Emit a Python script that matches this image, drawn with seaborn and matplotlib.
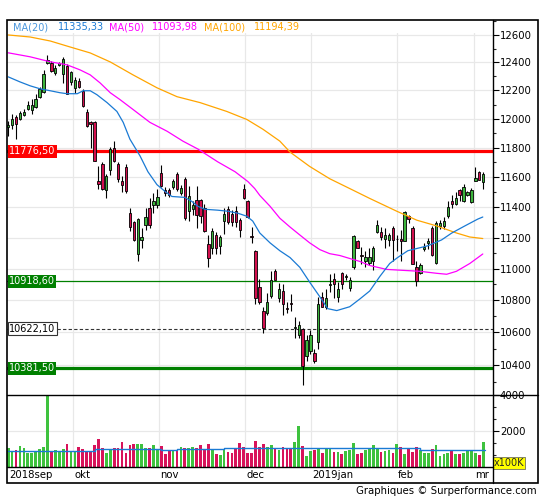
import matplotlib
matplotlib.use('Agg')
import matplotlib.pyplot as plt
import matplotlib.ticker as mticker
import matplotlib.transforms as mtrans
from matplotlib.patches import Rectangle
from matplotlib.lines import Line2D
import pandas as pd
import seaborn as sns

sns.set_style('white')
plt.rcParams['font.family'] = ['DejaVu Sans']

# daily candles, 2018sep -> 2019mr
opens = [11945, 11955, 12010, 11996, 12024, 12066, 12059, 12086, 12156, 12191,
         12397, 12397, 12325, 12383, 12318, 12375, 12262, 12219, 12269, 12198,
         12045, 11975, 11975, 11577, 11691, 11517, 11650, 11799, 11691, 11577,
         11670, 11360, 11301, 11096, 11185, 11282, 11393, 11412, 11412, 11630,
         11517, 11517, 11537, 11624, 11491, 11590, 11373, 11386, 11445, 11445,
         11393, 11160, 11134, 11217, 11147, 11308, 11386, 11354, 11373, 11314,
         11524, 11438, 11210, 11115, 10883, 10735, 10717, 10827, 10983, 10815,
         10858, 10750, 10780, 10625, 10583, 10619, 10457, 10486, 10474, 10540,
         10821, 10759, 10895, 10933, 10821, 10970, 10945, 10877, 11008, 11179,
         11090, 11046, 11039, 11052, 11237, 11237, 11192, 11185, 11263, 11192,
         11192, 11179, 11340, 11263, 11008, 10970, 11128, 11166, 11263, 11039,
         11276, 11276, 11340, 11438, 11418, 11517, 11438, 11484, 11432, 11577,
         11637, 11570]
highs = [11982, 12031, 12024, 12052, 12066, 12128, 12142, 12177, 12226, 12347,
         12454, 12411, 12383, 12404, 12440, 12390, 12340, 12297, 12290, 12212,
         12066, 11982, 11982, 11677, 11700, 11624, 11806, 11846, 11700, 11610,
         11691, 11393, 11308, 11327, 11263, 11393, 11458, 11491, 11524, 11684,
         11537, 11530, 11590, 11637, 11550, 11604, 11544, 11438, 11544, 11451,
         11418, 11217, 11263, 11237, 11217, 11393, 11406, 11380, 11406, 11327,
         11557, 11445, 11270, 11122, 10933, 10759, 10845, 10983, 10995, 10908,
         10901, 10790, 10840, 10698, 10668, 10625, 10583, 10613, 10497, 10821,
         10852, 10870, 10964, 10970, 10914, 10977, 10964, 10945, 11217, 11185,
         11141, 11115, 11134, 11147, 11314, 11269, 11263, 11230, 11276, 11217,
         11250, 11373, 11347, 11276, 11052, 11033, 11166, 11198, 11276, 11308,
         11314, 11334, 11438, 11478, 11504, 11524, 11557, 11510, 11530, 11670,
         11644, 11637]
lows = [11880, 11928, 11860, 11990, 12017, 12059, 12031, 12079, 12149, 12184,
        12390, 12333, 12311, 12375, 12255, 12177, 12240, 12184, 12219, 12086,
        11941, 11799, 11710, 11524, 11517, 11458, 11617, 11700, 11570, 11500,
        11491, 11240, 11179, 11052, 11134, 11250, 11263, 11360, 11393, 11537,
        11471, 11465, 11524, 11510, 11478, 11314, 11308, 11347, 11263, 11295,
        11237, 11008, 11096, 11096, 11096, 11224, 11288, 11276, 11270, 11204,
        11451, 11327, 11166, 10777, 10777, 10595, 10710, 10815, 10926, 10790,
        10710, 10717, 10735, 10565, 10565, 10279, 10427, 10468, 10415, 10497,
        10759, 10747, 10852, 10815, 10790, 10870, 10926, 10858, 10995, 11134,
        11027, 11008, 11020, 10989, 11230, 11185, 11134, 11147, 11052, 11115,
        11052, 11179, 11295, 11027, 10889, 10964, 11115, 11128, 11084, 11027,
        11256, 11256, 11327, 11393, 11412, 11438, 11432, 11471, 11425, 11577,
        11584, 11524]
closes = [11955, 11996, 11962, 12038, 12045, 12100, 12100, 12142, 12212, 12318,
          12419, 12340, 12361, 12397, 12426, 12177, 12333, 12276, 12226, 12093,
          11948, 11962, 11710, 11557, 11524, 11610, 11792, 11710, 11590, 11550,
          11510, 11270, 11185, 11321, 11204, 11334, 11282, 11438, 11465, 11544,
          11491, 11484, 11577, 11524, 11530, 11327, 11471, 11412, 11347, 11340,
          11243, 11065, 11243, 11134, 11204, 11354, 11301, 11301, 11301, 11250,
          11458, 11334, 11204, 10815, 10790, 10625, 10790, 10926, 10926, 10870,
          10778, 10747, 10778, 10630, 10643, 10397, 10553, 10583, 10427, 10778,
          10759, 10815, 10901, 10901, 10870, 10901, 10951, 10926, 11210, 11134,
          11084, 11077, 11077, 11134, 11282, 11204, 11217, 11217, 11185, 11194,
          11179, 11367, 11321, 11027, 10920, 11020, 11141, 11179, 11090, 11295,
          11295, 11308, 11399, 11418, 11458, 11484, 11537, 11504, 11517, 11597,
          11584, 11624]
volumes = [1074, 889, 944, 1167, 1074, 759, 759, 852, 1000, 1130,
           3963, 889, 944, 889, 1000, 1278, 852, 889, 1111, 1000,
           852, 852, 1222, 1556, 1037, 796, 944, 1037, 1074, 1370,
           796, 1222, 1278, 1278, 1278, 1074, 1074, 1222, 1000, 1167,
           741, 944, 944, 944, 1130, 1037, 1074, 1130, 1074, 1222,
           1000, 1278, 1000, 741, 685, 944, 852, 796, 1074, 1352,
           1111, 796, 759, 1426, 1130, 1278, 1130, 1222, 1037, 944,
           1130, 1074, 1074, 1370, 2278, 1167, 630, 889, 944, 1037,
           759, 1037, 1037, 852, 815, 741, 889, 944, 1352, 741,
           759, 944, 981, 1222, 1037, 852, 900, 944, 759, 1278,
           1130, 741, 981, 852, 1130, 944, 796, 796, 981, 1222,
           630, 741, 759, 889, 741, 741, 796, 907, 889, 796,
           685, 1370]

# moving averages (candle index, value)
ma20_idx = [0, 3, 5.6, 8.1, 10.7, 13.2, 15, 17.6, 19.1, 20.9, 22.6, 25.2, 27.7,
            29.3, 31, 33.6, 35.6, 37.9, 40, 41.7, 45, 46.8, 48.3, 50.1, 53.4,
            56, 58.5, 60.8, 62.3, 64.1, 66.7, 69.2, 71.8, 74.3, 76.8, 79.4,
            81.4, 83.7, 87, 89.6, 92.1, 94.7, 97.2, 99.2, 101.8, 106.9, 110.4,
            113, 116.3, 119.6, 120.9]
ma20_val = [12297, 12261, 12233, 12212, 12198, 12184, 12177, 12177, 12198, 12198,
            12170, 12114, 12052, 11976, 11860, 11744, 11637, 11550, 11504, 11471,
            11465, 11438, 11406, 11386, 11380, 11373, 11360, 11340, 11308, 11230,
            11166, 11115, 11071, 11008, 10914, 10821, 10747, 10735, 10759, 10808,
            10858, 10951, 11033, 11071, 11115, 11147, 11185, 11230, 11276, 11321,
            11335]
ma50_idx = [0, 5.6, 10.7, 15, 18.3, 20.9, 23.4, 26, 28.5, 31.8, 36.1, 40.5, 44.5,
            48.3, 53.4, 57.8, 61.1, 62.8, 64.1, 66.7, 69.2, 71.8, 74.3, 76.8,
            79.4, 81.9, 84.5, 87, 89.6, 92.1, 96.4, 100.5, 104.8, 109.2, 111.7,
            114.2, 117.6, 120.9]
ma50_val = [12470, 12441, 12405, 12383, 12347, 12311, 12254, 12184, 12135, 12066,
            11976, 11914, 11846, 11792, 11704, 11637, 11570, 11524, 11478, 11406,
            11327, 11269, 11217, 11166, 11122, 11096, 11084, 11065, 11046, 11020,
            10995, 10989, 10983, 10970, 10964, 10983, 11033, 11094]
ma100_idx = [0, 5.6, 10.7, 15.8, 20.9, 26, 31.8, 37.9, 43, 48.9, 55.7, 60.8, 64.9,
             69.2, 71.8, 76.8, 81.9, 87, 92.1, 99, 104.1, 109.2, 114.2, 117.6,
             120.9]
ma100_val = [12600, 12585, 12556, 12512, 12469, 12404, 12311, 12219, 12156, 12114,
             12052, 11996, 11928, 11846, 11771, 11673, 11590, 11524, 11458, 11373,
             11314, 11276, 11230, 11204, 11194]

vol_avg_start = [0, 22, 39, 43, 55, 75, 105, 121.4]
vol_avg_value = [889, 981, 944, 1000, 1074, 1037, 944, 944]

levels = [11776.50, 10918.60, 10622.10, 10381.50]
level_labels = ['11776,50', '10918,60', '10622,10', '10381,50']

price_ticks = [10400, 10600, 10800, 11000, 11200, 11400, 11600, 11800,
               12000, 12200, 12400, 12600]
month_labels = ['2018sep', 'okt', 'nov', 'dec', '2019jan', 'feb', 'mr']
month_grid = [-0.5, 16.5, 38.5, 60.3, 77.1, 99.0, 118.6]

legend_items = [('MA(20)', '#4b97dd'), ('11335,33', '#1a7ad4'),
                ('MA(50)', '#ff00ff'), ('11093,98', '#ff00ff'),
                ('MA(100)', '#ffa500'), ('11194,39', '#ffa500')]

GREEN = '#3cb43c'
RED = '#d2104e'
FS = 7.0

df = pd.DataFrame({'o': opens, 'h': highs, 'l': lows, 'c': closes, 'v': volumes})
df['i'] = range(len(df))
df['up'] = df['c'] >= df['o']
df['body_lo'] = df[['o', 'c']].min(axis=1)
df['body_h'] = (df['c'] - df['o']).abs().clip(lower=1)

W, H = 545, 500
fig = plt.figure(figsize=(W / 100, H / 100), dpi=100)
ax = fig.add_axes([7 / W, 105 / H, 486 / W, 375 / H])
axv = fig.add_axes([7 / W, 33 / H, 486 / W, 72 / H])

# price panel
ax.set_yscale('log')
ax.set_xlim(-0.3, 123.5)
ax.set_ylim(10221, 12710)
for g in month_grid[1:]:
    ax.axvline(g, color='#e8e8e8', lw=0.9, zorder=0.5)
for t in price_ticks:
    ax.axhline(t, color='#e8e8e8', lw=0.9, zorder=0.5)
ax.add_patch(Rectangle((0, 0.965), 1, 0.035, transform=ax.transAxes,
                       facecolor='white', edgecolor='none', zorder=1))

ax.axhline(levels[0], color='#ff0000', lw=2.3, zorder=2)
ax.axhline(levels[1], color='#008000', lw=0.9, zorder=2)
ax.axhline(levels[2], color='#333333', lw=0.8, ls=(0, (3, 2)), zorder=2)
ax.axhline(levels[3], color='#008000', lw=2.3, zorder=2)

ax.vlines(df['i'], df['l'], df['h'], color='black', lw=0.8, zorder=3)
ax.bar(df['i'], df['body_h'], bottom=df['body_lo'], width=0.6,
       color=[GREEN if u else RED for u in df['up']],
       edgecolor='black', linewidth=0.6, zorder=4)

sns.lineplot(x=ma100_idx, y=ma100_val, ax=ax, color='#ffa500', lw=0.9,
             estimator=None, sort=False, zorder=5)
sns.lineplot(x=ma50_idx, y=ma50_val, ax=ax, color='#ff00ff', lw=0.9,
             estimator=None, sort=False, zorder=5)
sns.lineplot(x=ma20_idx, y=ma20_val, ax=ax, color='#1a7ad4', lw=0.9,
             estimator=None, sort=False, zorder=5)

trans = mtrans.blended_transform_factory(ax.transAxes, ax.transData)
label_style = [('#ff0000', 'white', 'none'), ('#008000', 'white', 'none'),
               ('white', 'black', '#333333'), ('#008000', 'white', 'none')]
for lv, txt, (fc, tc, ec) in zip(levels, level_labels, label_style):
    ax.text(0.004, lv, txt, transform=trans, ha='left', va='center',
            fontsize=FS, color=tc, zorder=8,
            bbox=dict(boxstyle='square,pad=0.14', fc=fc, ec=ec, lw=0.8))

leg_x = [13, 58, 109, 152, 204, 254]
for (txt, col), px in zip(legend_items, leg_x):
    ax.text((px - 7) / 486, (395 - 27) / 375, txt, transform=ax.transAxes,
            ha='left', va='center', fontsize=FS, color=col, zorder=8)

ax.yaxis.tick_right()
ax.yaxis.set_major_locator(mticker.FixedLocator(price_ticks))
ax.yaxis.set_major_formatter(mticker.FuncFormatter(lambda v, p: f'{v:.0f}'))
ax.yaxis.set_minor_locator(mticker.FixedLocator(
    [t + 100 for t in price_ticks] + [price_ticks[0] - 100]))
ax.yaxis.set_minor_formatter(mticker.NullFormatter())
ax.tick_params(axis='y', which='major', direction='out', length=4, width=0.8,
               pad=1, labelsize=FS + 0.3, colors='black', right=True, left=False)
ax.tick_params(axis='y', which='minor', direction='out', length=2, width=0.8,
               right=True, left=False)
ax.tick_params(axis='x', bottom=False, labelbottom=False)
ax.set_xlabel('')
ax.set_ylabel('')
for s in ax.spines.values():
    s.set_visible(False)

# volume panel
axv.set_xlim(-0.3, 123.5)
axv.set_ylim(0, 4000)
for g in month_grid[1:]:
    axv.axvline(g, color='#e8e8e8', lw=0.9, zorder=0.5)
axv.axhline(2000, color='#e8e8e8', lw=0.9, zorder=0.5)
axv.bar(df['i'], df['v'], width=0.7, edgecolor='none', linewidth=0,
        color=['#3ec23e' if u else '#d8135a' for u in df['up']], zorder=2)
sns.lineplot(x=vol_avg_start, y=vol_avg_value, ax=axv, color='#1a7ad4', lw=1.0,
             drawstyle='steps-post', estimator=None, sort=False, zorder=3)
axv.yaxis.tick_right()
axv.yaxis.set_major_locator(mticker.FixedLocator([2000, 4000]))
axv.yaxis.set_minor_locator(mticker.MultipleLocator(2000 / 3))
axv.yaxis.set_minor_formatter(mticker.NullFormatter())
axv.tick_params(axis='y', which='major', direction='out', length=4, width=0.8,
                pad=1, labelsize=FS + 0.3, colors='black', right=True, left=False)
axv.tick_params(axis='y', which='minor', direction='out', length=2, width=0.8,
                right=True, left=False)
axv.tick_params(axis='x', bottom=False, labelbottom=False)
axv.set_xlabel('')
axv.set_ylabel('')
for s in axv.spines.values():
    s.set_visible(False)

vtrans = mtrans.blended_transform_factory(axv.transData, axv.transAxes)
for g, lab in zip(month_grid, month_labels):
    axv.text(max(g, 0.0) + 0.3, -0.115, lab, transform=vtrans, ha='left',
             va='center', fontsize=FS + 0.3, color='black', clip_on=False)

fig.text(494 / W, (500 - 468) / H, 'x100K', ha='left', va='bottom', fontsize=FS,
         bbox=dict(boxstyle='square,pad=0.1', fc='#ffff00', ec='#555555', lw=0.5))

# frame
fig.add_artist(Rectangle((7 / W, 17 / H), 531 / W, 463 / H, transform=fig.transFigure,
                         fill=False, ec='black', lw=1.2, zorder=10))
fig.add_artist(Line2D([493 / W, 493 / W], [17 / H, 480 / H], transform=fig.transFigure,
                      color='black', lw=1.0, zorder=10))
fig.add_artist(Line2D([7 / W, 538 / W], [105 / H, 105 / H], transform=fig.transFigure,
                      color='black', lw=1.0, zorder=10))
fig.add_artist(Line2D([7 / W, 493 / W], [33 / H, 33 / H], transform=fig.transFigure,
                      color='black', lw=1.0, zorder=10))

fig.text(537 / W, 9 / H, 'Graphiques \u00a9 Surperformance.com', ha='right',
         va='center', fontsize=FS + 0.3, color='black')

fig.savefig('out.png', dpi=100)
